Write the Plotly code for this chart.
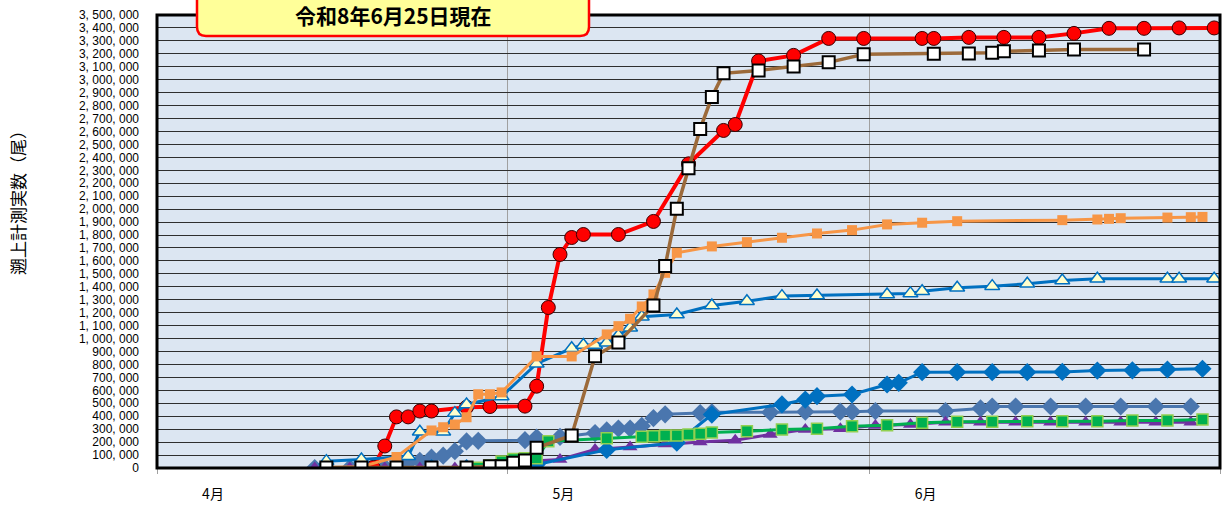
import pandas as pd
import plotly.graph_objects as go

YEAR = 2026

# ---------------- data (month/day, cumulative counts) ----------------
red_dates = ["4/19", "4/20", "4/21", "4/22", "4/23", "4/24", "4/27", "4/29", "5/2", "5/3", "5/4",
             "5/5", "5/6", "5/7", "5/10", "5/13", "5/16", "5/19", "5/20", "5/22", "5/25", "5/28",
             "5/31", "6/5", "6/6", "6/9", "6/12", "6/15", "6/18", "6/21", "6/24", "6/27", "6/30"]
red_values = [5000, 170000, 395000, 395000, 440000, 440000, 470000, 475000, 478000, 632000, 1240000,
              1650000, 1781000, 1804000, 1804000, 1905000, 2350000, 2608000, 2654000, 3145000, 3188000,
              3319000, 3319000, 3319000, 3319000, 3327000, 3327000, 3327000, 3358000, 3397000, 3397000,
              3400000, 3400000]

brown_dates = ["4/15", "4/18", "4/21", "4/24", "4/27", "4/29", "4/30", "5/1", "5/2", "5/3", "5/6",
               "5/8", "5/10", "5/13", "5/14", "5/15", "5/16", "5/17", "5/18", "5/19", "5/22", "5/25",
               "5/28", "5/31", "6/6", "6/9", "6/11", "6/12", "6/15", "6/18", "6/24"]
brown_values = [3000, 3000, 3000, 3000, 3000, 14000, 14000, 40000, 58000, 156000, 251000,
                864000, 970000, 1256000, 1560000, 2003000, 2315000, 2620000, 2866000, 3049000, 3072000,
                3103000, 3134000, 3196000, 3201000, 3203000, 3209000, 3219000, 3226000, 3234000, 3234000]

orange_dates = ["4/15", "4/18", "4/21", "4/24", "4/25", "4/26", "4/27", "4/28", "4/29", "4/30", "5/3",
                "5/6", "5/9", "5/10", "5/11", "5/12", "5/13", "5/14", "5/15", "5/18", "5/21", "5/24",
                "5/27", "5/30", "6/2", "6/5", "6/8", "6/17", "6/20", "6/21", "6/22", "6/26", "6/28", "6/29"]
orange_values = [3000, 10000, 85000, 290000, 315000, 336000, 392000, 570000, 570000, 584000, 862000,
                 862000, 1032000, 1096000, 1153000, 1248000, 1341000, 1508000, 1663000, 1712000, 1745000,
                 1779000, 1812000, 1838000, 1882000, 1895000, 1907000, 1915000, 1920000, 1925000,
                 1930000, 1935000, 1938000, 1940000]

tri_dates = ["4/15", "4/18", "4/22", "4/23", "4/25", "4/26", "4/27", "4/30", "5/3", "5/6", "5/7",
             "5/8", "5/9", "5/10", "5/11", "5/12", "5/15", "5/18", "5/21", "5/24", "5/27", "6/2",
             "6/4", "6/5", "6/8", "6/11", "6/14", "6/17", "6/20", "6/26", "6/27", "6/30"]
tri_values = [53000, 66000, 91000, 280000, 280000, 424000, 491000, 552000, 806000, 925000, 950000,
              950000, 967000, 1024000, 1083000, 1168000, 1186000, 1256000, 1289000, 1328000, 1333000,
              1341000, 1349000, 1366000, 1393000, 1405000, 1423000, 1449000, 1462000, 1462000,
              1462000, 1462000]

blue_dates = ["4/15", "4/18", "4/21", "4/24", "4/27", "4/30", "5/3", "5/9", "5/15", "5/18", "5/24",
              "5/26", "5/27", "5/30", "6/2", "6/3", "6/5", "6/8", "6/11", "6/14", "6/17", "6/20",
              "6/23", "6/26", "6/29"]
blue_values = [0, 0, 0, 0, 0, 0, 27000, 140000, 195000, 413000, 491000,
               529000, 555000, 568000, 645000, 658000, 740000, 740000, 740000, 740000, 742000, 753000,
               755000, 761000, 767000]

steel_dates = ["4/14", "4/17", "4/20", "4/22", "4/23", "4/24", "4/25", "4/26", "4/27", "4/28", "5/2",
               "5/3", "5/5", "5/8", "5/9", "5/10", "5/11", "5/12", "5/13", "5/14", "5/17", "5/18",
               "5/23", "5/26", "5/29", "5/30", "6/1", "6/7", "6/10", "6/11", "6/13", "6/16", "6/19",
               "6/22", "6/25", "6/28"]
steel_values = [0, 0, 5000, 40000, 55000, 80000, 95000, 130000, 205000, 210000, 215000,
                235000, 240000, 270000, 290000, 305000, 305000, 325000, 385000, 415000, 425000, 430000,
                430000, 435000, 435000, 435000, 440000, 440000, 460000, 475000, 475000, 475000, 475000,
                475000, 475000, 475000]

green_dates = ["4/28", "4/29", "4/30", "5/1", "5/2", "5/3", "5/4", "5/9", "5/12", "5/13", "5/14",
               "5/15", "5/16", "5/17", "5/18", "5/21", "5/24", "5/27", "5/30", "6/2", "6/5", "6/8",
               "6/11", "6/14", "6/17", "6/20", "6/23", "6/26", "6/29"]
green_values = [2000, 20000, 50000, 70000, 75000, 75000, 207000, 230000, 241000, 245000, 251000,
                251000, 259000, 264000, 275000, 284000, 297000, 303000, 323000, 331000, 349000, 357000,
                357000, 362000, 362000, 362000, 367000, 367000, 375000]

purple_dates = ["4/14", "4/17", "4/20", "4/23", "4/26", "4/29", "5/2", "5/5", "5/8", "5/11", "5/14",
                "5/17", "5/20", "5/23", "5/26", "5/29", "6/1", "6/4", "6/7", "6/10", "6/13", "6/16",
                "6/19", "6/22", "6/25", "6/28"]
purple_values = [0, 0, 0, 0, 0, 5000, 50000, 66000, 143000, 162000, 185000,
                 200000, 215000, 259000, 297000, 303000, 328000, 336000, 354000, 354000, 354000, 354000,
                 354000, 354000, 354000, 354000]

month_ticks = ["4/1", "5/1", "6/1", "7/1"]
month_labels = ["4月", "5月", "6月", ""]
y_max = 3500000
y_step = 100000

title_text = "令和8年6月25日現在"
y_title = "遡上計測実数（尾）"


def to_x(dates):
    # Excel date axis: each day's point sits in the middle of its day slot
    return pd.to_datetime([f"{YEAR}/{d}" for d in dates]) + pd.Timedelta(hours=12)


JP = "Noto Sans CJK JP"

fig = go.Figure()

series = [
    # dates, values, line colour, line width, marker dict
    (steel_dates, steel_values, "#4A76AE", 3,
     dict(symbol="diamond", size=14, color="#4A76AE", line=dict(width=0))),
    (purple_dates, purple_values, "#7030A0", 3,
     dict(symbol="triangle-up", size=13, color="#7030A0", line=dict(width=0))),
    (blue_dates, blue_values, "#0070C0", 3,
     dict(symbol="diamond", size=14, color="#0070C0", line=dict(width=0))),
    (green_dates, green_values, "#00B050", 3,
     dict(symbol="square", size=11, color="#00B050", line=dict(width=1.5, color="#92D050"))),
    (red_dates, red_values, "#FF0000", 4,
     dict(symbol="circle", size=14, color="#FF0000", line=dict(width=1, color="#3A0000"))),
    (tri_dates, tri_values, "#0070C0", 3,
     dict(symbol="triangle-up", size=13, color="#FFFFCC", line=dict(width=1.5, color="#0070C0"))),
    (orange_dates, orange_values, "#F79646", 3,
     dict(symbol="square", size=10, color="#F79646", line=dict(width=0))),
    (brown_dates, brown_values, "#9C6A3A", 3.5,
     dict(symbol="square", size=12, color="#FFFFFF", line=dict(width=2, color="#000000"))),
]

for d, v, lc, lw, mk in series:
    fig.add_trace(go.Scatter(x=to_x(d), y=v, mode="lines+markers",
                             line=dict(color=lc, width=lw), marker=mk,
                             showlegend=False, hoverinfo="x+y"))

yvals = list(range(0, y_max + 1, y_step))
ytext = [f"{v:,}".replace(",", ", ") for v in yvals]

W, H = 1223, 509
L, R, T, B = 157, 3, 15, 41
PW, PH = W - L - R, H - T - B

fig.update_layout(
    width=W, height=H,
    margin=dict(l=L, r=R, t=T, b=B, autoexpand=False),
    paper_bgcolor="white",
    plot_bgcolor="#DCE6F2",
    font=dict(family=JP, color="black"),
    xaxis=dict(
        type="date",
        automargin=False,
        range=[f"{YEAR}-04-01", f"{YEAR}-07-01"],
        tickvals=pd.to_datetime([f"{YEAR}/{m}" for m in month_ticks]),
        ticktext=month_labels,
        ticklabelshift=56,
        ticks="outside", ticklen=5, tickcolor="#A0A0A0",
        ticklabelstandoff=8,
        showgrid=True, gridcolor="#A0A0A0", gridwidth=1,
        zeroline=False, showline=False,
        tickfont=dict(family=JP, size=14, color="black"),
    ),
    yaxis=dict(
        automargin=False,
        range=[0, y_max],
        tickvals=yvals, ticktext=ytext,
        showgrid=True, gridcolor="#2E2E2E", gridwidth=1,
        zeroline=False, showline=False, ticks="",
        ticklabelstandoff=17,
        tickfont=dict(family="Liberation Sans", size=12, color="black"),
    ),
)

# plot-area frame
fig.add_shape(type="rect", xref="paper", yref="paper", x0=0, x1=1, y0=0, y1=1,
              line=dict(color="black", width=3), fillcolor="rgba(0,0,0,0)", layer="above")


# rounded title box (pixel geometry -> paper coordinates)
def px2paper(px, py):
    return (px - L) / PW, (H - B - py) / PH


def P(px, py):
    x, y = px2paper(px, py)
    return f"{x:.5f},{y:.5f}"


bx0, bx1, by0, by1, rad = 197, 589, -12, 36, 9
path = (f"M {P(bx0 + rad, by0)} L {P(bx1 - rad, by0)} Q {P(bx1, by0)} {P(bx1, by0 + rad)} "
        f"L {P(bx1, by1 - rad)} Q {P(bx1, by1)} {P(bx1 - rad, by1)} "
        f"L {P(bx0 + rad, by1)} Q {P(bx0, by1)} {P(bx0, by1 - rad)} "
        f"L {P(bx0, by0 + rad)} Q {P(bx0, by0)} {P(bx0 + rad, by0)} Z")
fig.add_shape(type="path", xref="paper", yref="paper", path=path,
              fillcolor="#FFFF99", line=dict(color="#FF0000", width=2.5), layer="above")

tx, ty = px2paper(393, 15)
fig.add_annotation(xref="paper", yref="paper", x=tx, y=ty, text=f"<b>{title_text}</b>",
                   showarrow=False, xanchor="center", yanchor="middle",
                   font=dict(family=JP, size=21, color="black"))

ax, ay = px2paper(18, 199)
fig.add_annotation(xref="paper", yref="paper", x=ax, y=ay, text=y_title, textangle=-90,
                   showarrow=False, xanchor="center", yanchor="middle",
                   font=dict(family=JP, size=17, color="black"))

fig.write_html("out.html",
               config={"displayModeBar": False},
               post_script="document.body.style.margin='0';document.body.style.overflow='hidden';")
